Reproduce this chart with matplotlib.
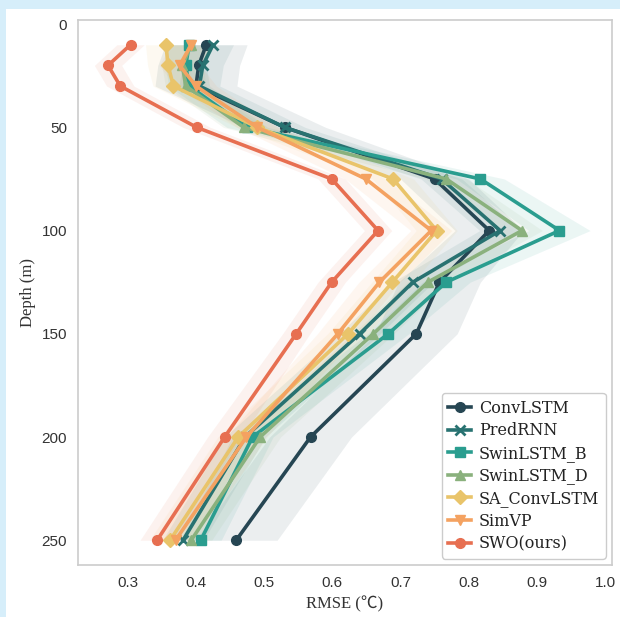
import matplotlib
matplotlib.use("Agg")
import matplotlib.pyplot as plt
from matplotlib.patches import Rectangle
import numpy as np

depths = [10, 20, 30, 50, 75, 100, 125, 150, 200, 250]

models = ["ConvLSTM", "PredRNN", "SwinLSTM_B", "SwinLSTM_D", "SA_ConvLSTM", "SimVP", "SWO(ours)"]
colors = ["#264653", "#287271", "#2a9d8f", "#8ab17d", "#e9c46a", "#f4a261", "#e76f51"]
markers = ["o", "x", "s", "^", "D", "v", "o"]

convlstm   = [0.415, 0.404, 0.400, 0.530, 0.750, 0.830, 0.757, 0.723, 0.568, 0.459]
predrnn    = [0.425, 0.410, 0.405, 0.530, 0.760, 0.846, 0.718, 0.640, 0.472, 0.381]
swinlstm_b = [0.390, 0.385, 0.390, 0.475, 0.817, 0.933, 0.767, 0.682, 0.483, 0.407]
swinlstm_d = [0.393, 0.380, 0.385, 0.470, 0.767, 0.878, 0.740, 0.660, 0.494, 0.393]
sa_convlstm = [0.356, 0.359, 0.367, 0.490, 0.689, 0.753, 0.688, 0.623, 0.462, 0.362]
simvp      = [0.393, 0.376, 0.400, 0.490, 0.649, 0.745, 0.669, 0.608, 0.474, 0.370]
swo        = [0.304, 0.271, 0.289, 0.401, 0.599, 0.667, 0.599, 0.547, 0.442, 0.343]

# spread (half-width of shaded band)
convlstm_sd   = [0.060, 0.060, 0.060, 0.060, 0.050, 0.050, 0.060, 0.060, 0.060, 0.060]
predrnn_sd    = [0.030, 0.030, 0.030, 0.030, 0.030, 0.030, 0.030, 0.030, 0.030, 0.030]
swinlstm_b_sd = [0.030, 0.030, 0.030, 0.030, 0.035, 0.045, 0.035, 0.030, 0.030, 0.030]
swinlstm_d_sd = [0.030, 0.030, 0.030, 0.030, 0.030, 0.030, 0.030, 0.030, 0.030, 0.030]
sa_convlstm_sd = [0.030, 0.030, 0.030, 0.030, 0.030, 0.030, 0.030, 0.030, 0.030, 0.030]
simvp_sd      = [0.030, 0.030, 0.030, 0.030, 0.030, 0.030, 0.030, 0.030, 0.030, 0.030]
swo_sd        = [0.020, 0.020, 0.020, 0.020, 0.020, 0.020, 0.020, 0.020, 0.025, 0.025]

series = [convlstm, predrnn, swinlstm_b, swinlstm_d, sa_convlstm, simvp, swo]
spreads = [convlstm_sd, predrnn_sd, swinlstm_b_sd, swinlstm_d_sd, sa_convlstm_sd, simvp_sd, swo_sd]

xticks = [0.3, 0.4, 0.5, 0.6, 0.7, 0.8, 0.9, 1.0]
yticks = [0, 50, 100, 150, 200, 250]

fig = plt.figure(figsize=(6.2, 6.17), dpi=100)
fig.patch.set_facecolor("#d6eefa")
fig.patches.append(Rectangle((6/620, 0), 1, 1 - 9/617, transform=fig.transFigure,
                             facecolor="white", edgecolor="none", zorder=-10))

ax = fig.add_axes([78/620, 1 - 565/617, (612-78)/620, (565-20)/617])
ax.set_facecolor("white")

for name, vals, sd, c, m in zip(models, series, spreads, colors, markers):
    v = np.array(vals)
    s = np.array(sd)
    ax.fill_betweenx(depths, v - s, v + s, color=c, alpha=0.09, linewidth=0)
    mew = 2 if m == "x" else 1
    ax.plot(vals, depths, color=c, marker=m, markersize=7, linewidth=2.6,
            markeredgewidth=mew, label=name)

ax.set_xlim(0.227, 1.01)
ax.set_ylim(262, -2)
ax.set_xticks(xticks)
ax.set_xticklabels([f"{t:.1f}" for t in xticks])
ax.set_yticks(yticks)
ax.set_yticklabels([str(t) for t in yticks])
ax.tick_params(length=0, labelsize=11, labelcolor="#333333", pad=8)
for lab in ax.get_xticklabels() + ax.get_yticklabels():
    lab.set_fontfamily("Liberation Sans")
for sp in ax.spines.values():
    sp.set_color("#cccccc")
    sp.set_linewidth(1.2)

ax.set_xlabel("RMSE (\u2103)", family=["Liberation Serif", "Noto Sans CJK SC", "DejaVu Sans"],
              fontsize=12, color="#333333", labelpad=4)
ax.set_ylabel("Depth (m)", family="Liberation Serif", fontsize=12, color="#333333", labelpad=4)

leg = ax.legend(loc="lower right", prop={"family": "DejaVu Serif", "size": 11.5},
                frameon=True, fancybox=True, framealpha=1, edgecolor="#cccccc",
                handlelength=1.4, handletextpad=0.5, borderpad=0.4,
                labelspacing=0.35, borderaxespad=0.4)
for t in leg.get_texts():
    t.set_color("#222222")

fig.savefig("out.png", dpi=100, facecolor=fig.get_facecolor())
